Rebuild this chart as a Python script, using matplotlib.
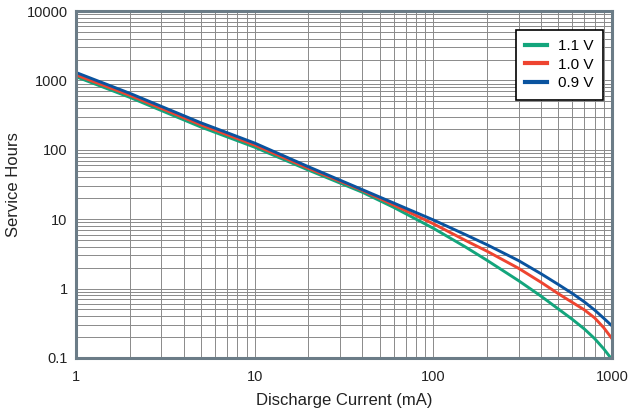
import matplotlib
matplotlib.use('Agg')
import matplotlib.pyplot as plt
from matplotlib.ticker import LogLocator, FixedLocator, FixedFormatter, NullFormatter

plt.rcParams['font.family'] = ['Liberation Sans', 'DejaVu Sans']

# discharge current (mA)
current = [1, 2, 5, 10, 20, 40, 60, 100, 150, 200, 300, 400, 500, 600, 700, 800, 900, 1000]

# service hours per cut-off voltage
hours_11 = [1130, 570, 213, 109, 51, 24.5, 14.8, 7.4, 4.03, 2.55, 1.30, 0.78, 0.51, 0.36, 0.262, 0.19, 0.135, 0.095]
hours_10 = [1200, 610, 229, 117, 54, 26, 16, 8.6, 5.0, 3.45, 1.96, 1.236, 0.846, 0.632, 0.494, 0.378, 0.272, 0.19]
hours_09 = [1300, 652, 245, 125, 57, 26.7, 17.1, 9.76, 6.05, 4.28, 2.53, 1.64, 1.148, 0.85, 0.644, 0.49, 0.373, 0.29]

labels = ['1.1 V', '1.0 V', '0.9 V']
colors = ['#13a57c', '#ee4430', '#0a539f']

fig = plt.figure(figsize=(6.35, 4.17), dpi=100)
ax = fig.add_axes([0.1197, 0.1415, 0.8441, 0.8321])

for ys, lab, col in zip([hours_11, hours_10, hours_09], labels, colors):
    ax.plot(current, ys, color=col, lw=2.1, label=lab, solid_joinstyle='round')

ax.set_xscale('log')
ax.set_yscale('log')
ax.set_xlim(1, 1000)
ax.set_ylim(0.1, 10000)

ax.xaxis.set_major_locator(FixedLocator([1, 10, 100, 1000]))
ax.xaxis.set_major_formatter(FixedFormatter(['1', '10', '100', '1000']))
ax.yaxis.set_major_locator(FixedLocator([0.1, 1, 10, 100, 1000, 10000]))
ax.yaxis.set_major_formatter(FixedFormatter(['0.1', '1', '10', '100', '1000', '10000']))
ax.xaxis.set_minor_locator(LogLocator(base=10, subs=range(2, 10)))
ax.yaxis.set_minor_locator(LogLocator(base=10, subs=range(2, 10)))
ax.xaxis.set_minor_formatter(NullFormatter())
ax.yaxis.set_minor_formatter(NullFormatter())

ax.grid(True, which='both', color='#8a8a8a', lw=0.7)
ax.set_axisbelow(True)
ax.tick_params(which='both', length=0, labelsize=10.5, colors='#222222')
ax.tick_params(axis='x', pad=9)
ax.tick_params(axis='y', pad=6)

for s in ax.spines.values():
    s.set_color('#6b7c87')
    s.set_linewidth(2.2)

ax.set_xlabel('Discharge Current (mA)', fontsize=12, color='#222222', labelpad=6)
ax.set_ylabel('Service Hours', fontsize=12, color='#222222')
ax.yaxis.set_label_coords(-0.102, 0.5)

leg = ax.legend(loc='upper right', bbox_to_anchor=(0.983, 0.945), fontsize=11,
                frameon=True, fancybox=False, handlelength=1.4, handletextpad=0.75,
                borderpad=0.6, labelspacing=0.3, borderaxespad=0)
leg.get_frame().set_edgecolor('black')
leg.get_frame().set_linewidth(1.2)
leg.get_frame().set_alpha(1)
for line in leg.get_lines():
    line.set_linewidth(3)

plt.savefig('out.png', dpi=100)
plt.close()
